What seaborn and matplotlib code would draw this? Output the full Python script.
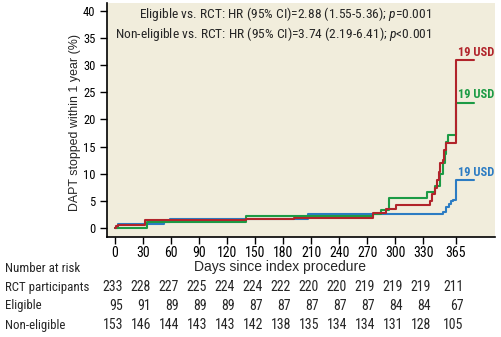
import matplotlib
matplotlib.use("Agg")
import matplotlib.pyplot as plt
from matplotlib import font_manager
from matplotlib.transforms import blended_transform_factory
import numpy as np
import pandas as pd
import seaborn as sns

# ---------------- data ----------------
rct_days = [0, 3, 52, 59, 207, 351, 355, 358, 360, 362, 365, 385]
rct_pct = [0, 0.75, 1.05, 1.55, 2.5, 2.95, 3.8, 4.4, 4.9, 5.2, 8.8, 8.8]

elig_days = [0, 34, 140, 276, 285, 294, 334, 343, 348, 351, 353, 355, 357, 365, 385]
elig_pct = [0, 1.1, 2.15, 2.5, 3.2, 5.5, 6.6, 7.7, 9.9, 11.9, 13.6, 15.9, 17.1, 23.1, 23.1]

nonel_days = [0, 1, 3, 32, 140, 192, 276, 290, 301, 337, 340, 343, 345, 347, 348, 351, 352, 355, 365, 385]
nonel_pct = [0, 0.4, 0.6, 1.35, 1.6, 1.9, 2.8, 3.4, 4.2, 4.9, 6.3, 7.3, 8.8, 10.3, 11.9, 12.6, 14.3, 15.6, 30.9, 30.9]

end_labels = ["19 USD", "19 USD", "19 USD"]

risk_days = [0, 30, 60, 90, 120, 150, 180, 210, 240, 270, 300, 330, 365]
risk_rct = [233, 228, 227, 225, 224, 224, 222, 220, 220, 219, 219, 219, 211]
risk_elig = [95, 91, 89, 89, 89, 87, 87, 87, 87, 87, 84, 84, 67]
risk_nonel = [153, 146, 144, 143, 143, 142, 138, 135, 134, 134, 131, 128, 105]
row_names = ["RCT participants", "Eligible", "Non-eligible"]

yticks = [0, 5, 10, 15, 20, 25, 30, 35, 40]
hr_lines = ["Eligible vs. RCT: HR (95% CI)=2.88 (1.55-5.36); $p$=0.001",
            "Non-eligible vs. RCT: HR (95% CI)=3.74 (2.19-6.41); $p$<0.001"]

# ---------------- style ----------------
sns.set_style("ticks")
avail = {f.name for f in font_manager.fontManager.ttflist}
cond = None
for cand in ["Liberation Sans Narrow", "DejaVu Sans Condensed", "Roboto Condensed", "Open Sans Condensed"]:
    if cand in avail:
        cond = cand
        break
if cond is None:
    cond = "DejaVu Sans"
regular = "Liberation Sans" if "Liberation Sans" in avail else "DejaVu Sans"
plt.rcParams["font.family"] = [cond, "DejaVu Sans"]
plt.rcParams["mathtext.fontset"] = "custom"
plt.rcParams["mathtext.it"] = f"{cond}:italic"
plt.rcParams["mathtext.rm"] = cond

red = "#B1242B"
green = "#1C9B45"
blue = "#2C7CC3"
bg = "#F1EDDC"

frames = []
for name, d, p in [("RCT", rct_days, rct_pct), ("Eligible", elig_days, elig_pct),
                   ("Non-eligible", nonel_days, nonel_pct)]:
    frames.append(pd.DataFrame({"day": d, "pct": p, "group": name}))
df = pd.concat(frames, ignore_index=True)
palette = {"RCT": blue, "Eligible": green, "Non-eligible": red}

fig = plt.figure(figsize=(5.02, 3.37), dpi=100)
ax = fig.add_axes([0.2125, 0.2967, 0.7735, 0.6943])
ax.set_facecolor(bg)

sns.lineplot(data=df, x="day", y="pct", hue="group", palette=palette,
             hue_order=["RCT", "Eligible", "Non-eligible"],
             drawstyle="steps-post", estimator=None, sort=False,
             linewidth=1.5, legend=False, ax=ax)

ax.set_xlim(-9, 407)
ax.set_ylim(-1.7, 41.5)
ax.set_xticks(risk_days)
ax.set_xticklabels([str(d) for d in risk_days], fontsize=10)
ax.set_yticks(yticks)
ax.set_yticklabels([str(v) for v in yticks], fontsize=9)
ax.tick_params(axis="x", length=5, width=1, pad=1.8, colors="black")
ax.tick_params(axis="y", length=5, width=1, pad=3, colors="black")
for s in ["top", "right"]:
    ax.spines[s].set_visible(False)
for s in ["left", "bottom"]:
    ax.spines[s].set_linewidth(1.2)
    ax.spines[s].set_color("black")

ax.set_xlabel("Days since index procedure", fontsize=10, family=regular)
ax.set_ylabel("DAPT stopped within 1 year (%)", fontsize=8.9, family=regular)
ax.xaxis.set_label_coords(0.446, -0.097)
ax.yaxis.set_label_coords(-0.066, 0.489)

# HR annotation
ax.text(339.3, 39.4, hr_lines[0], ha="right", va="center", fontsize=9.7)
ax.text(339.3, 35.7, hr_lines[1], ha="right", va="center", fontsize=9.7)

# end labels
for lab, p, c in [(end_labels[0], nonel_pct[-1], red), (end_labels[1], elig_pct[-1], green),
                  (end_labels[2], rct_pct[-1], blue)]:
    ax.text(367, p + 0.3, lab, ha="left", va="bottom", fontsize=9, fontweight="bold", color=c)

# number at risk table
tr = blended_transform_factory(ax.transData, fig.transFigure)
fig.text(5 / 502, 1 - 269 / 337, "Number at risk", ha="left", va="center", fontsize=9.3)
row_y = [287, 306, 325]
for name, vals, yp in zip(row_names, [risk_rct, risk_elig, risk_nonel], row_y):
    fig.text(5 / 502, 1 - yp / 337, name, ha="left", va="center", fontsize=9.3)
    for d, v in zip(risk_days, vals):
        ax.text(d + 8.6, 1 - yp / 337, str(v), transform=tr, ha="right", va="center",
                fontsize=10, clip_on=False)

fig.savefig("out.png", dpi=100, facecolor="white")
